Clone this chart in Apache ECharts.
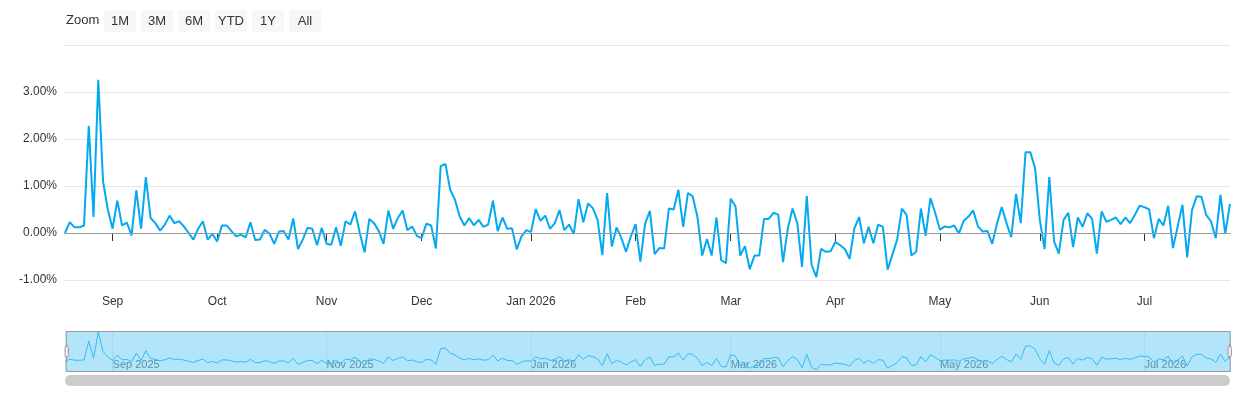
<!DOCTYPE html>
<html><head><meta charset="utf-8">
<script src="https://cdn.jsdelivr.net/npm/echarts@6/dist/echarts.min.js"></script>
<style>html,body{margin:0;padding:0;background:#fff}#c{width:1240px;height:400px}</style>
</head><body><div id="c"></div>
<script>
const startDate = '2025-08-18';
const values = [
0,0.23,0.12,0.12,0.16,2.28,0.34,3.26,1.1,0.5,0.09,0.69,0.16,0.22,-0.05,0.91,0.09,1.19,0.32,0.21,0.05,0.18,0.37,0.21,0.25,0.14,0,-0.14,0.09,0.25,-0.14,-0.02,-0.18,0.16,0.16,0.04,-0.07,-0.04,-0.09,0.23,-0.15,-0.14,0.07,-0.01,-0.23,0.03,0.04,-0.14,0.31,-0.34,-0.14,0.11,0.09,-0.26,0.11,-0.23,-0.25,0.12,-0.27,0.25,0.18,0.46,0,-0.41,0.3,0.21,0.04,-0.23,0.48,0.09,0.32,0.48,0.06,0.14,-0.06,-0.11,0.2,0.16,-0.33,1.42,1.47,0.92,
0.71,0.35,0.16,0.32,0.16,0.28,0.13,0.18,0.69,0.04,0.33,0.09,0.1,-0.35,-0.07,0.06,0.02,0.51,0.26,0.37,0.09,0.21,0.49,0.06,0.18,-0.02,0.72,0.23,0.63,0.53,0.28,-0.47,0.85,-0.29,0.12,-0.11,-0.4,-0.07,0.19,-0.61,0.2,0.47,-0.45,-0.32,-0.33,0.52,0.5,0.92,0.13,0.85,0.78,0.34,-0.48,-0.13,-0.48,0.33,-0.58,-0.64,0.73,0.57,-0.48,-0.28,-0.77,-0.48,-0.48,0.3,0.3,0.43,0.39,-0.62,0.09,0.52,0.21,-0.72,0.79,-0.67,-0.94,-0.34,-0.4,-0.39,-0.19,
-0.26,-0.34,-0.55,0.1,0.34,-0.22,0.13,-0.22,0.18,0.13,-0.78,-0.46,-0.14,0.52,0.38,-0.48,-0.4,0.52,-0.06,0.74,0.43,0.07,0.14,0.12,0.16,-0.01,0.26,0.35,0.48,0.14,0.03,0.04,-0.23,0.2,0.55,0.21,-0.09,0.83,0.21,1.72,1.72,1.38,0.28,-0.34,1.19,-0.18,-0.44,0.28,0.43,-0.3,0.33,0.13,0.42,0.3,-0.44,0.46,0.24,0.28,0.33,0.19,0.33,0.21,0.39,0.58,0.55,0.5,-0.11,0.3,0.16,0.58,-0.32,0.14,0.6,-0.52,0.48,0.78,0.77,0.38,0.25,-0.11,0.81,-0.02,0.62];
const monthNames = ['Jan','Feb','Mar','Apr','May','Jun','Jul','Aug','Sep','Oct','Nov','Dec'];
const yTicks = [-1,0,1,2,3,4];

// weekday dates
const dates = [];
let d = new Date(startDate + 'T00:00:00Z');
while (dates.length < values.length) {
  const wd = d.getUTCDay();
  if (wd !== 0 && wd !== 6) dates.push(d.toISOString().slice(0,10));
  d = new Date(d.getTime() + 86400000);
}
const monthStart = new Set();
for (let i = 1; i < dates.length; i++) if (dates[i].slice(5,7) !== dates[i-1].slice(5,7)) monthStart.add(i);
const mainFmt = (v) => { const m = +v.slice(5,7); const y = v.slice(0,4); return m === 1 ? 'Jan ' + y : monthNames[m-1]; };
const navIdx = new Set([...monthStart].filter(i => (+dates[i].slice(5,7)) % 2 === 1));

const chart = echarts.init(document.getElementById('c'));
const btns = ['1M','3M','6M','YTD','1Y','All'];
const graphic = [{type:'text', left:66, top:14, style:{text:'Zoom', font:'13px "Liberation Sans", Arial', fill:'#333'}}];
btns.forEach((b,i)=>{
  const x = 104 + i*37;
  graphic.push({type:'rect', shape:{x:x,y:10,width:32,height:22,r:2}, style:{fill:'#f7f7f7'}});
  graphic.push({type:'text', x:x+16, y:21, style:{text:b, font:'13px "Liberation Sans", Arial', fill:'#333', align:'center', verticalAlign:'middle'}});
});
graphic.push({type:'rect', shape:{x:65,y:375,width:1165,height:11,r:6}, style:{fill:'#cccccc'}});

chart.setOption({
  animation:false,
  graphic: graphic,
  grid:[{left:65,right:10,top:45,height:235},{left:65,right:10,top:331,height:41}],
  xAxis:[{type:'category', data:dates, boundaryGap:false, gridIndex:0,
    axisLine:{lineStyle:{color:'#333'}},
    axisTick:{interval:(i)=>monthStart.has(i), length:8, lineStyle:{color:'#333'}},
    axisLabel:{interval:(i)=>monthStart.has(i), formatter:mainFmt, color:'#333', fontSize:12, margin:16, fontFamily:'"Liberation Sans", Arial'},
    splitLine:{show:false}},
   {type:'category', data:dates, boundaryGap:false, gridIndex:1,
    axisLine:{show:false}, axisTick:{show:false},
    axisLabel:{interval:(i)=>navIdx.has(i), inside:true, formatter:(v)=>monthNames[+v.slice(5,7)-1]+' '+v.slice(0,4), color:'#555', fontSize:11, margin:2, align:'left', verticalAlign:'bottom', fontFamily:'"Liberation Sans", Arial'},
    splitLine:{show:true, interval:(i)=>navIdx.has(i), lineStyle:{color:'#e6e6e6'}}}],
  yAxis:[{type:'value', gridIndex:0, min:-1, max:4, interval:1,
    axisLabel:{formatter:(v)=> v===4 ? '' : v.toFixed(2)+'%', color:'#333', fontSize:12, fontFamily:'"Liberation Sans", Arial'},
    splitLine:{lineStyle:{color:'#e6e6e6'}}, axisLine:{show:false}, axisTick:{show:false}},
   {type:'value', gridIndex:1, min:-1.2, max:3.4, show:false}],
  dataZoom:[{type:'slider', xAxisIndex:0, start:0, end:100, left:65, right:10, top:331, height:41,
    showDataShadow:false, fillerColor:'rgba(102,204,245,0.5)', borderColor:'#999', backgroundColor:'transparent',
    handleSize:'40%', handleStyle:{color:'#f2f2f2', borderColor:'#999'}, moveHandleSize:0, showDetail:false,
    dataBackground:{lineStyle:{opacity:0},areaStyle:{opacity:0}}}],
  series:[{type:'line', data:values, xAxisIndex:0, yAxisIndex:0, symbol:'none', lineStyle:{color:'#05a9f0', width:2},
     markLine:{symbol:'none', silent:true, label:{show:false}, lineStyle:{color:'#999', width:1, type:'solid'}, data:[{yAxis:0}]}},
    {type:'line', data:values, xAxisIndex:1, yAxisIndex:1, symbol:'none', lineStyle:{color:'#05a9f0', width:1}}]
});
</script></body></html>
